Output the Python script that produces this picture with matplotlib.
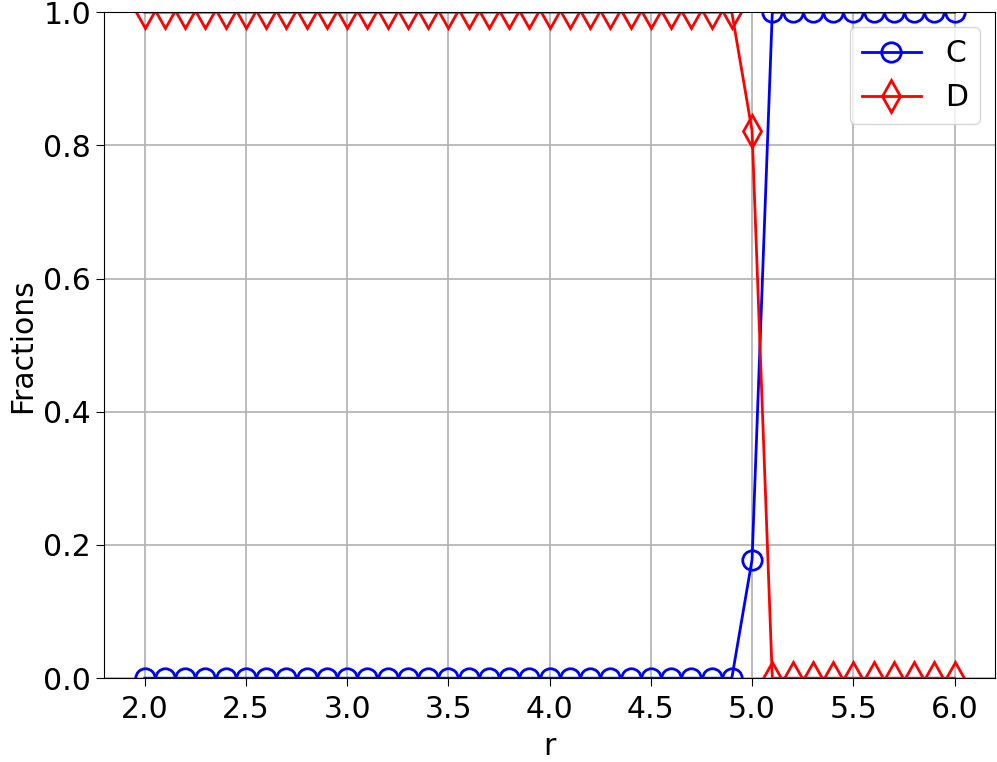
import numpy as np
import matplotlib
matplotlib.use("Agg")
import matplotlib.pyplot as plt

# r values 2.0 .. 6.0
r = np.round(np.arange(2.0, 6.01, 0.1), 1)
frac_c = [0.0] * 30 + [0.178] + [1.0] * 10
frac_d = [1.0] * 30 + [0.822] + [0.0] * 10

plt.rcParams['font.size'] = 21.5
plt.rcParams['xtick.major.pad'] = 6
plt.rcParams['xtick.major.size'] = 6
plt.rcParams['ytick.major.size'] = 6

fig = plt.figure(figsize=(9.97, 7.62), dpi=100)
ax = fig.add_axes([0.1045, 0.110, 0.8935, 0.874])

ax.plot(r, frac_c, 'b-o', mfc='none', ms=14, lw=2.0, mew=2.0, label='C')
ax.plot(r, frac_d, 'r-d', mfc='none', ms=16, lw=2.0, mew=2.0, label='D')

ax.set_ylim(0, 1)
ax.set_xlabel('r', labelpad=6)
ax.set_ylabel('Fractions')
ax.grid(True, lw=1.2)
ax.legend(loc='upper right')

fig.savefig('out.png', dpi=100)
